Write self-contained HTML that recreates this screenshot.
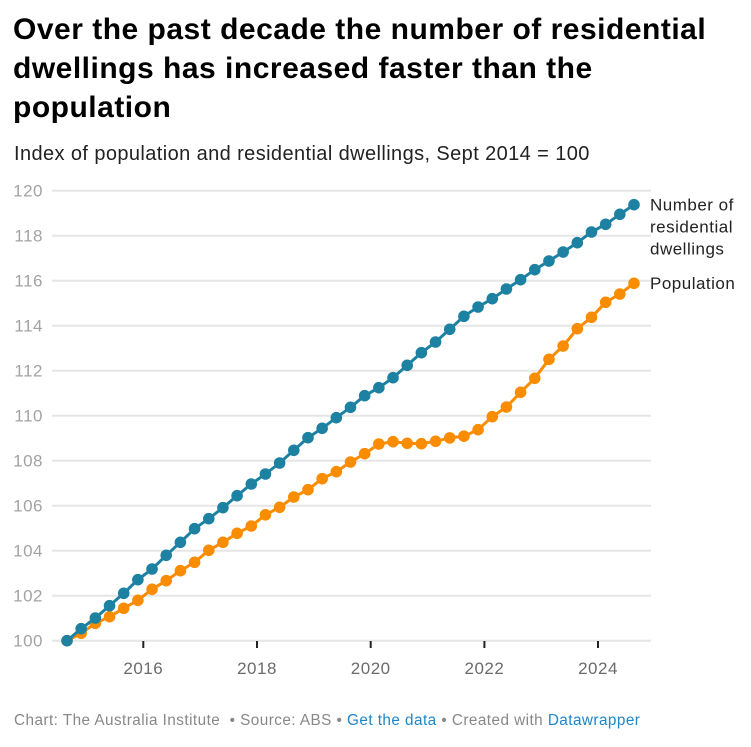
<!DOCTYPE html>
<html><head><meta charset="utf-8"><style>
html,body{margin:0;padding:0;background:#fff;}
svg{display:block;font-family:"Liberation Sans",Arial,sans-serif;}
</style></head><body>
<svg width="751" height="747" viewBox="0 0 751 747" xmlns="http://www.w3.org/2000/svg">
<defs>
<marker id="mb" viewBox="0 0 12 12" refX="6" refY="6" markerWidth="12" markerHeight="12" markerUnits="userSpaceOnUse"><circle cx="6" cy="6" r="5.8" fill="#1d81a2"/></marker>
<marker id="mo" viewBox="0 0 12 12" refX="6" refY="6" markerWidth="12" markerHeight="12" markerUnits="userSpaceOnUse"><circle cx="6" cy="6" r="5.8" fill="#fa8c00"/></marker>
</defs>
<rect width="751" height="747" fill="#fff"/>
<g font-weight="bold" font-size="30" fill="#000" letter-spacing="0.5">
<text x="13" y="39">Over the past decade the number of residential</text>
<text x="13" y="78">dwellings has increased faster than the</text>
<text x="13" y="117">population</text>
</g>
<text x="14" y="160" font-size="20" letter-spacing="0.4" fill="#222">Index of population and residential dwellings, Sept 2014 = 100</text>
<g stroke="#e6e6e6" stroke-width="2">
<line x1="52" x2="651" y1="190.7" y2="190.7"/>
<line x1="52" x2="651" y1="235.7" y2="235.7"/>
<line x1="52" x2="651" y1="280.7" y2="280.7"/>
<line x1="52" x2="651" y1="325.7" y2="325.7"/>
<line x1="52" x2="651" y1="370.7" y2="370.7"/>
<line x1="52" x2="651" y1="415.7" y2="415.7"/>
<line x1="52" x2="651" y1="460.7" y2="460.7"/>
<line x1="52" x2="651" y1="505.7" y2="505.7"/>
<line x1="52" x2="651" y1="550.7" y2="550.7"/>
<line x1="52" x2="651" y1="595.7" y2="595.7"/>
<line x1="52" x2="651" y1="640.7" y2="640.7"/>
</g>
<g font-size="17" letter-spacing="0.5" fill="#a3a3a3" text-anchor="end">
<text x="43" y="196.7">120</text>
<text x="43" y="241.7">118</text>
<text x="43" y="286.7">116</text>
<text x="43" y="331.7">114</text>
<text x="43" y="376.7">112</text>
<text x="43" y="421.7">110</text>
<text x="43" y="466.7">108</text>
<text x="43" y="511.7">106</text>
<text x="43" y="556.7">104</text>
<text x="43" y="601.7">102</text>
<text x="43" y="646.7">100</text>
</g>
<g stroke="#222" stroke-width="2">
<line x1="143.3" x2="143.3" y1="641" y2="648"/>
<line x1="257" x2="257" y1="641" y2="648"/>
<line x1="370.7" x2="370.7" y1="641" y2="648"/>
<line x1="484.4" x2="484.4" y1="641" y2="648"/>
<line x1="598" x2="598" y1="641" y2="648"/>
</g>
<g font-size="17" letter-spacing="0.5" fill="#6b6b6b" text-anchor="middle">
<text x="143.3" y="674">2016</text>
<text x="257" y="674">2018</text>
<text x="370.7" y="674">2020</text>
<text x="484.4" y="674">2022</text>
<text x="598" y="674">2024</text>
</g>
<polyline fill="none" stroke="#fa8c00" stroke-width="3" stroke-linejoin="round" marker-start="url(#mo)" marker-mid="url(#mo)" marker-end="url(#mo)" points="67,640.7 81.18,633.3 95.35,623.3 109.53,616.7 123.7,608.3 137.88,600.3 152.05,589.3 166.23,580.7 180.4,570.7 194.58,562.3 208.75,550.3 222.93,542.3 237.1,533.3 251.28,526 265.45,514.8 279.63,507.3 293.8,497 307.98,489.7 322.15,478.7 336.33,471.7 350.5,462 364.68,453.7 378.85,444 393.03,441.7 407.2,443.3 421.38,443.7 435.55,441.3 449.73,437.9 463.9,436.2 478.08,429.7 492.25,416.7 506.43,407 520.6,392.3 534.78,378.3 548.95,359.3 563.13,346 577.3,328.7 591.48,317.3 605.65,302.3 619.83,294 634,283.3"/>
<polyline fill="none" stroke="#1d81a2" stroke-width="3" stroke-linejoin="round" marker-start="url(#mb)" marker-mid="url(#mb)" marker-end="url(#mb)" points="67,640.7 81.18,628.7 95.35,618 109.53,605.7 123.7,593.3 137.88,579.7 152.05,569 166.23,555.3 180.4,542.3 194.58,528.7 208.75,518.7 222.93,507.7 237.1,495.7 251.28,484 265.45,474 279.63,463 293.8,450.3 307.98,437.7 322.15,428.3 336.33,417.7 350.5,407.3 364.68,395.7 378.85,387.7 393.03,377.7 407.2,365.3 421.38,352.7 435.55,342 449.73,329.3 463.9,316.3 478.08,307 492.25,298.7 506.43,289 520.6,279.7 534.78,269.7 548.95,261 563.13,252 577.3,242.7 591.48,232 605.65,224.3 619.83,214.3 634,204.7"/>
<g font-size="17" letter-spacing="0.5" fill="#222">
<text x="650" y="210.5">Number of</text>
<text x="650" y="232.5">residential</text>
<text x="650" y="254.5">dwellings</text>
<text x="650" y="289">Population</text>
</g>
<text x="14" y="725" font-size="15.3" letter-spacing="0.45" fill="#888">Chart: The Australia Institute <tspan>&#160;• Source: ABS • </tspan><tspan fill="#1d86c8">Get the data</tspan><tspan> • Created with </tspan><tspan fill="#1d86c8">Datawrapper</tspan></text>
</svg>
</body></html>
